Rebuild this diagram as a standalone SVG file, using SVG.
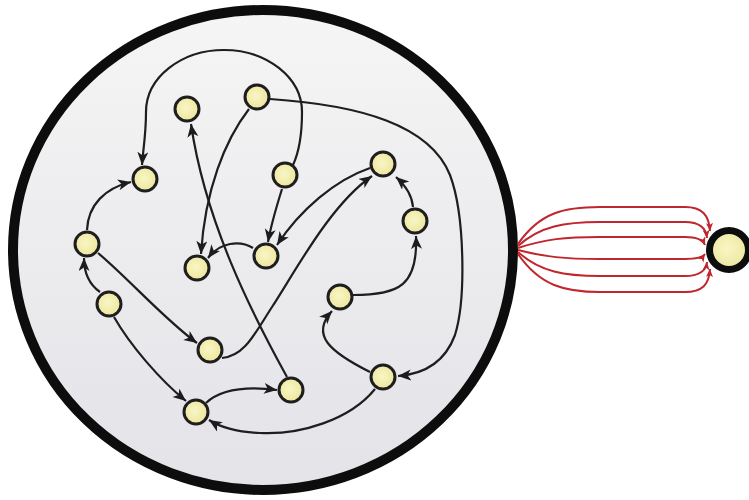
<svg xmlns="http://www.w3.org/2000/svg" width="749" height="500" viewBox="0 0 749 500">
<defs>
<linearGradient id="cell" x1="0" y1="0" x2="0" y2="1">
<stop offset="0" stop-color="#f5f5f5"/>
<stop offset="1" stop-color="#e3e3e8"/>
</linearGradient>
<radialGradient id="nodefill" cx="0.45" cy="0.45" r="0.6">
<stop offset="0" stop-color="#f9f6c4"/>
<stop offset="1" stop-color="#ece59c"/>
</radialGradient>
<marker id="arr" markerUnits="userSpaceOnUse" markerWidth="14" markerHeight="12" refX="13" refY="5.5" orient="auto">
<path d="M0,0 L13,5.5 L0,11 L3.5,5.5 Z" fill="#1c1c1c"/>
</marker>
<marker id="rarr" markerUnits="userSpaceOnUse" markerWidth="9" markerHeight="7" refX="8" refY="3.5" orient="auto">
<path d="M0,0 L8,3.5 L0,7 L2,3.5 Z" fill="#c0262d"/>
</marker>
</defs>
<style>
.node{fill:url(#nodefill);stroke:#1e1e1e;stroke-width:3}
.c{fill:none;stroke:#1e1e1e;stroke-width:2.2;marker-end:url(#arr)}
.r{fill:none;stroke:#c0262d;stroke-width:2;marker-end:url(#rarr)}
</style>
<rect width="749" height="500" fill="#ffffff"/>
<g id="cellBody">
<ellipse cx="263" cy="250" rx="250" ry="240" fill="url(#cell)" stroke="#0d0d0d" stroke-width="10"/>
</g>
<g id="connectors">
<path class="c" d="M293,165 C300,150 302,130 302,112 A78,62 0 0 0 146,112 C146,135 143,150 142,165"/>
<path class="c" d="M270,99 C360,105 430,125 450,175 C465,215 466,300 455,335 C445,362 425,374 398,376"/>
<path class="c" d="M249,109 C225,140 205,190 201,254"/>
<path class="c" d="M287,377 C250,310 205,220 191,124"/>
<path class="c" d="M282,189 C277,205 271,225 268,242"/>
<path class="c" d="M370,168 C335,180 300,210 277,245"/>
<path class="c" d="M253,248 C240,240 220,242 208,258"/>
<path class="c" d="M222,358 C245,356 255,333 272,307 C295,272 330,205 372,176"/>
<path class="c" d="M413,207 C412,195 405,185 396,177"/>
<path class="c" d="M353,295 C400,295 418,285 416,236"/>
<path class="c" d="M370,372 C330,352 310,335 332,311"/>
<path class="c" d="M375,389 C350,420 300,435 260,433 C235,432 220,427 209,420"/>
<path class="c" d="M206,403 C220,390 245,386 277,390"/>
<path class="c" d="M114,317 C130,345 160,380 186,401"/>
<path class="c" d="M100,292 C90,285 84,275 84,258"/>
<path class="c" d="M98,253 C130,280 165,320 197,343"/>
<path class="c" d="M87,230 C88,205 105,188 131,182"/>
<g id="redLinks">
<path class="r" d="M518,244 C540,212 565,207 600,207 L685,207 C702,207 709,215 710,231"/>
<path class="r" d="M518,246 C540,226 565,222 600,222 L685,222 C700,222 706,228 707,238"/>
<path class="r" d="M518,248 C545,239 565,237 600,237 L685,237 C697,237 703,240 705,245"/>
<path class="r" d="M518,250 C545,257 565,259 600,259 L685,259 C697,259 703,257 705,254"/>
<path class="r" d="M518,252 C540,272 565,276 600,276 L685,276 C700,276 706,271 707,262"/>
<path class="r" d="M518,254 C540,286 565,292 600,292 L685,292 C702,292 709,285 710,269"/>
</g>
</g>
<g id="n1"><circle class="node" cx="187" cy="109" r="12"/></g>
<g id="n2"><circle class="node" cx="257" cy="97" r="12"/></g>
<g id="n3"><circle class="node" cx="145" cy="179" r="12"/></g>
<g id="n4"><circle class="node" cx="285" cy="175" r="12"/></g>
<g id="n5"><circle class="node" cx="383" cy="164" r="12"/></g>
<g id="n6"><circle class="node" cx="415" cy="221" r="12"/></g>
<g id="n7"><circle class="node" cx="87" cy="244" r="12"/></g>
<g id="n8"><circle class="node" cx="197" cy="268" r="12"/></g>
<g id="n9"><circle class="node" cx="266" cy="256" r="12"/></g>
<g id="n10"><circle class="node" cx="109" cy="304" r="12"/></g>
<g id="n11"><circle class="node" cx="340" cy="297" r="12"/></g>
<g id="n12"><circle class="node" cx="210" cy="350" r="12"/></g>
<g id="n13"><circle class="node" cx="383" cy="377" r="12"/></g>
<g id="n14"><circle class="node" cx="291" cy="390" r="12"/></g>
<g id="n15"><circle class="node" cx="196" cy="412" r="12"/></g>
<g id="ext"><circle cx="729" cy="250" r="19.5" fill="url(#nodefill)" stroke="#0d0d0d" stroke-width="7"/></g>
</svg>
